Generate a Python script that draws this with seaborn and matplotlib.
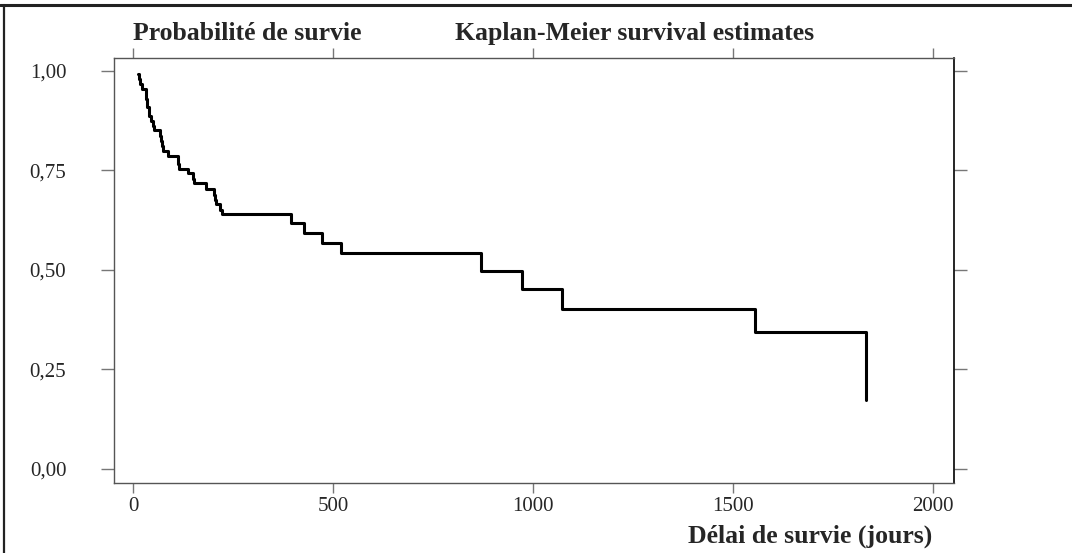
#!/usr/bin/env python3
"""Kaplan-Meier survival curve (Stata-like layout) redrawn with seaborn."""
import matplotlib
matplotlib.use("Agg")
import matplotlib.pyplot as plt
from matplotlib.lines import Line2D
import pandas as pd
import seaborn as sns

# Step function: time (days) and survival after each step
days = [11, 14, 17, 23, 32, 35, 39, 45, 50, 53, 68, 70, 72, 74, 88,
        111, 113, 115, 138, 150, 153, 182, 201, 204, 207, 217, 221,
        395, 427, 472, 519, 870, 972, 1073, 1555, 1832]
survival = [0.991, 0.979, 0.966, 0.954, 0.930, 0.908, 0.886, 0.874, 0.862, 0.850,
            0.836, 0.824, 0.812, 0.799, 0.787,
            0.775, 0.765, 0.754, 0.742, 0.729, 0.717, 0.702, 0.689, 0.676, 0.664,
            0.651, 0.639,
            0.617, 0.592, 0.566, 0.541, 0.496, 0.451, 0.401, 0.343, 0.173]

x_ticks = [0, 500, 1000, 1500, 2000]
y_ticks = [0.0, 0.25, 0.5, 0.75, 1.0]
y_tick_labels = ["0,00", "0,25", "0,50", "0,75", "1,00"]

title_left = "Probabilité de survie"
title_main = "Kaplan-Meier survival estimates"
x_label = "Délai de survie (jours)"

sns.set_style("white")
plt.rcParams["font.family"] = ["Liberation Serif", "DejaVu Serif"]

df = pd.DataFrame({"t": days, "s": survival})

fig = plt.figure(figsize=(10.72, 5.53), dpi=100)
ax = fig.add_axes([0.1066, 0.1266, 0.7834, 0.7685])

sns.lineplot(data=df, x="t", y="s", drawstyle="steps-post", estimator=None,
             sort=False, color="black", linewidth=2.2, ax=ax)

ax.set_xlim(-47.5, 2052)
ax.set_ylim(-0.0357, 1.032)
ax.set_xticks(x_ticks)
ax.set_xticklabels([str(v) for v in x_ticks])
ax.set_yticks(y_ticks)
ax.set_yticklabels(y_tick_labels)
ax.set_xlabel("")
ax.set_ylabel("")

for side in ["left", "bottom", "top"]:
    ax.spines[side].set_color("#555555")
    ax.spines[side].set_linewidth(1.0)
ax.spines["right"].set_color("black")
ax.spines["right"].set_linewidth(1.2)

ax.tick_params(axis="y", which="both", left=True, right=True, labelright=False,
               length=9.5, width=1.0, color="#777777", labelsize=15, pad=25)
ax.tick_params(axis="x", which="both", bottom=True, top=True, labeltop=False,
               length=7, width=1.0, color="#777777", labelsize=15, pad=3)

fig.text(133 / 1072, 1 - 40 / 553, title_left, fontsize=18.5, fontweight="bold",
         ha="left", va="baseline")
fig.text(455 / 1072, 1 - 40 / 553, title_main, fontsize=18.5, fontweight="bold",
         ha="left", va="baseline")
fig.text(932 / 1072, 1 - 543 / 553, x_label, fontsize=18.5, fontweight="bold",
         ha="right", va="baseline")

# outer frame (top and left edges of the original graph window)
fig.add_artist(Line2D([0, 1], [1 - 5 / 553, 1 - 5 / 553], transform=fig.transFigure,
                      color="#222222", linewidth=2.2))
fig.add_artist(Line2D([4 / 1072, 4 / 1072], [0, 1 - 5 / 553], transform=fig.transFigure,
                      color="#222222", linewidth=1.6))

fig.savefig("out.png", dpi=100)
plt.close(fig)
